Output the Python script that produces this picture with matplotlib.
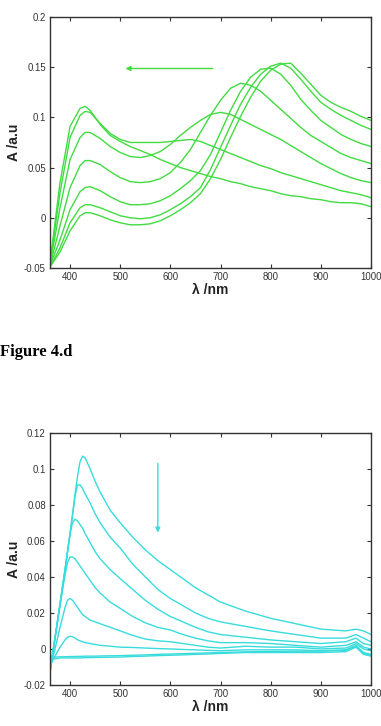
import matplotlib
matplotlib.use("Agg")
import matplotlib.pyplot as plt

GREEN = "#40dc40"
CYAN = "#38dcdc"
FRAME = "#333333"

# ---- top panel : green spectra
wl_top = [360, 380, 400, 420, 430, 440, 460, 480, 500, 520, 540, 560, 580, 600, 620, 640, 660,
          680, 700, 720, 740, 760, 780, 800, 820, 840, 860, 880, 900, 920, 940, 960, 980, 1000]

g1 = [-0.045, 0.035, 0.091, 0.109, 0.111, 0.107, 0.093, 0.082, 0.076, 0.071, 0.067, 0.063, 0.058, 0.054,
      0.050, 0.047, 0.044, 0.041, 0.039, 0.036, 0.034, 0.031, 0.029, 0.027, 0.024, 0.022, 0.021, 0.019,
      0.018, 0.016, 0.015, 0.015, 0.014, 0.011]
g2 = [-0.046, 0.025, 0.080, 0.102, 0.106, 0.105, 0.094, 0.084, 0.078, 0.075, 0.075, 0.075, 0.075, 0.076,
      0.077, 0.078, 0.076, 0.072, 0.068, 0.064, 0.060, 0.056, 0.052, 0.049, 0.045, 0.042, 0.039, 0.036,
      0.033, 0.030, 0.027, 0.025, 0.023, 0.020]
g3 = [-0.047, 0.010, 0.058, 0.080, 0.085, 0.085, 0.079, 0.071, 0.065, 0.061, 0.060, 0.062, 0.066, 0.073,
      0.082, 0.090, 0.097, 0.103, 0.105, 0.103, 0.098, 0.093, 0.088, 0.083, 0.078, 0.072, 0.066, 0.060,
      0.054, 0.049, 0.044, 0.040, 0.037, 0.035]
g4 = [-0.048, -0.008, 0.030, 0.052, 0.057, 0.057, 0.053, 0.046, 0.040, 0.036, 0.035, 0.036, 0.039, 0.045,
      0.055, 0.068, 0.085, 0.102, 0.117, 0.129, 0.134, 0.132, 0.126, 0.117, 0.108, 0.099, 0.090, 0.082,
      0.076, 0.070, 0.064, 0.060, 0.057, 0.054]
g5 = [-0.048, -0.022, 0.008, 0.026, 0.030, 0.031, 0.027, 0.021, 0.016, 0.013, 0.013, 0.014, 0.017, 0.022,
      0.029, 0.037, 0.047, 0.063, 0.085, 0.107, 0.126, 0.140, 0.148, 0.149, 0.143, 0.132, 0.118, 0.107,
      0.097, 0.090, 0.083, 0.078, 0.074, 0.071]
g6 = [-0.049, -0.030, -0.005, 0.010, 0.013, 0.013, 0.010, 0.006, 0.002, 0.000, -0.001, 0.000, 0.003, 0.008,
      0.014, 0.021, 0.030, 0.048, 0.070, 0.092, 0.113, 0.130, 0.143, 0.151, 0.154, 0.149, 0.138, 0.126,
      0.115, 0.108, 0.102, 0.097, 0.092, 0.088]
g7 = [-0.049, -0.034, -0.013, 0.002, 0.005, 0.005, 0.002, -0.002, -0.005, -0.007, -0.007, -0.006, -0.003,
      0.002, 0.008, 0.015, 0.024, 0.039, 0.058, 0.080, 0.101, 0.120, 0.136, 0.147, 0.153, 0.154, 0.144,
      0.133, 0.122, 0.115, 0.110, 0.106, 0.101, 0.097]
top_series = [g1, g2, g3, g4, g5, g6, g7]
top_yticks = [-0.05, 0, 0.05, 0.1, 0.15, 0.2]
top_ylabels = ["-0.05", "0", "0.05", "0.1", "0.15", "0.2"]

# ---- bottom panel : cyan spectra
wl_bot = [360, 370, 380, 390, 395, 400, 405, 410, 415, 420, 425, 430, 440, 450, 460, 480, 500,
          525, 550, 575, 600, 625, 650, 675, 700, 750, 800, 850, 900, 950, 970, 985, 1000]

c1 = [-0.013, 0.006, 0.025, 0.044, 0.054, 0.064, 0.075, 0.086, 0.096, 0.104, 0.107, 0.106, 0.100, 0.093,
      0.087, 0.077, 0.070,
      0.062, 0.055, 0.049, 0.044, 0.039, 0.034, 0.030, 0.026, 0.021, 0.017, 0.014, 0.011, 0.010, 0.011,
      0.010, 0.008]
c2 = [-0.013, 0.006, 0.025, 0.044, 0.054, 0.064, 0.074, 0.085, 0.091, 0.091, 0.089, 0.086, 0.081, 0.075,
      0.070, 0.062, 0.056,
      0.047, 0.040, 0.033, 0.028, 0.024, 0.020, 0.017, 0.015, 0.0125, 0.010, 0.008, 0.006, 0.006, 0.008,
      0.006, 0.004]
c3 = [-0.013, 0.006, 0.025, 0.044, 0.054, 0.064, 0.070, 0.072, 0.071, 0.069, 0.067, 0.064, 0.059, 0.054,
      0.050, 0.044, 0.039,
      0.033, 0.027, 0.022, 0.018, 0.015, 0.012, 0.0095, 0.008, 0.0065, 0.005, 0.004, 0.003, 0.004, 0.006,
      0.003, 0.002]
c4 = [-0.012, 0.006, 0.024, 0.041, 0.048, 0.051, 0.051, 0.050, 0.048, 0.046, 0.044, 0.042, 0.038, 0.034,
      0.031, 0.026, 0.0225,
      0.018, 0.0145, 0.012, 0.0105, 0.008, 0.006, 0.0045, 0.0035, 0.0035, 0.003, 0.002, 0.001, 0.002,
      0.004, 0.001, 0.0]
c5 = [-0.011, 0.0, 0.012, 0.023, 0.027, 0.028, 0.027, 0.025, 0.023, 0.021, 0.019, 0.018, 0.016, 0.015,
      0.014, 0.012, 0.010,
      0.0075, 0.0055, 0.0045, 0.004, 0.003, 0.002, 0.001, 0.0005, 0.0015, 0.001, 0.001, 0.0, 0.0005, 0.003,
      0.0, -0.001]
c6 = [-0.009, -0.004, 0.001, 0.005, 0.0065, 0.007, 0.0068, 0.006, 0.005, 0.0045, 0.004, 0.0035, 0.003,
      0.0025, 0.002, 0.0015, 0.001,
      0.0008, 0.0005, 0.0002, 0.0, -0.0003, -0.0005, -0.0008, -0.001, -0.0005, -0.0005, -0.0005, -0.001,
      -0.0005, 0.002, -0.002, -0.003]
c7 = [-0.006, -0.0055, -0.005, -0.005, -0.005, -0.005, -0.005, -0.005, -0.005, -0.005, -0.0049, -0.0048,
      -0.0048, -0.0047, -0.0047, -0.0046, -0.0045,
      -0.0042, -0.004, -0.0037, -0.0035, -0.0033, -0.003, -0.0028, -0.0025, -0.002, -0.002, -0.002, -0.002,
      -0.0015, 0.001, -0.003, -0.004]
c8 = [-0.0045, -0.0045, -0.0044, -0.0043, -0.0043, -0.0042, -0.0042, -0.0042, -0.0041, -0.0041, -0.0041,
      -0.004, -0.004, -0.004, -0.0039, -0.0038, -0.0037,
      -0.0035, -0.0033, -0.003, -0.0028, -0.0026, -0.0024, -0.0022, -0.002, -0.0016, -0.0014, -0.0013,
      -0.0012, -0.0008, 0.0015, -0.0025, -0.0035]
bot_series = [c1, c2, c3, c4, c5, c6, c7, c8]
bot_yticks = [-0.02, 0, 0.02, 0.04, 0.06, 0.08, 0.1, 0.12]
bot_ylabels = ["-0.02", "0", "0.02", "0.04", "0.06", "0.08", "0.1", "0.12"]

x_ticks = [400, 500, 600, 700, 800, 900, 1000]


def style_axes(ax, yticks, ylabels, ylim):
    ax.set_xlim(360, 1000)
    ax.set_ylim(*ylim)
    ax.set_xticks(x_ticks)
    ax.set_xticklabels([str(t) for t in x_ticks])
    ax.set_yticks(yticks)
    ax.set_yticklabels(ylabels)
    ax.tick_params(direction="in", top=True, right=True, length=3, width=0.8,
                   labelsize=6.9, colors=FRAME, pad=3)
    for sp in ax.spines.values():
        sp.set_color(FRAME)
        sp.set_linewidth(1.0)
    ax.set_xlabel("λ /nm", fontsize=10, fontweight="bold", color="#222222")
    ax.set_ylabel("A /a.u", fontsize=10, fontweight="bold", color="#222222")
    ax.yaxis.set_label_coords(-0.09, 0.5)
    ax.xaxis.set_label_coords(0.5, -0.06)


plt.rcParams["font.family"] = ["Liberation Sans", "DejaVu Sans"]
fig = plt.figure(figsize=(3.81, 7.26), dpi=100)

ax1 = fig.add_axes([0.1312, 0.6309, 0.8425, 0.3457])
for s in top_series:
    ax1.plot(wl_top, s, color=GREEN, lw=1.0)
style_axes(ax1, top_yticks, top_ylabels, (-0.05, 0.2))
ax1.annotate("", xy=(505, 0.1487), xytext=(690, 0.1487),
             arrowprops=dict(arrowstyle="-|>", color=GREEN, lw=1.0, mutation_scale=7))

fig.text(0.0, 0.515, "Figure 4.d", fontsize=12, fontweight="bold",
         family=["Liberation Serif", "DejaVu Serif"], ha="left", va="center")

ax2 = fig.add_axes([0.1312, 0.0565, 0.8425, 0.3475])
for s in bot_series:
    ax2.plot(wl_bot, s, color=CYAN, lw=1.0)
style_axes(ax2, bot_yticks, bot_ylabels, (-0.02, 0.12))
ax2.annotate("", xy=(575, 0.063), xytext=(575, 0.1045),
             arrowprops=dict(arrowstyle="-|>", color=CYAN, lw=1.0, mutation_scale=7))

fig.savefig("out.png", dpi=100)
